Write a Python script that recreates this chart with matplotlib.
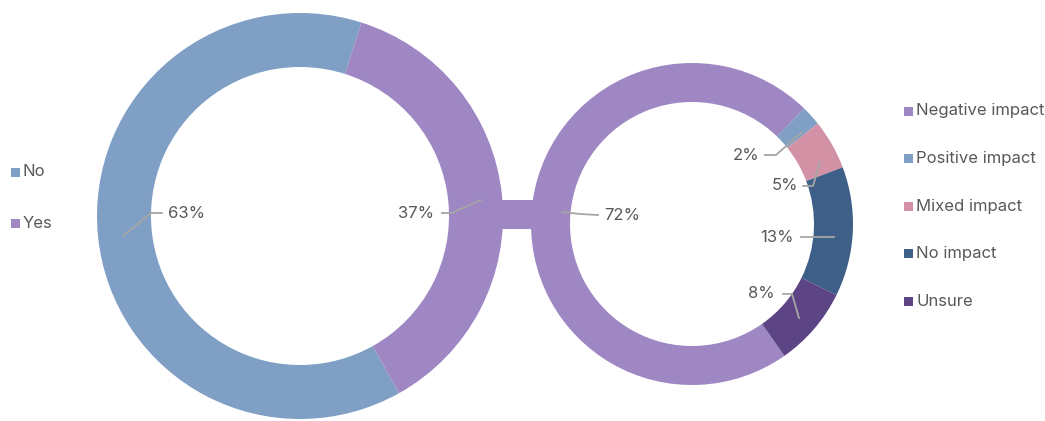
import matplotlib.pyplot as plt
from matplotlib.patches import Rectangle

plt.rcParams['font.family'] = ['Inter', 'DejaVu Sans']

# left donut: do respondents see an impact at all
main_labels = ['No', 'Yes']
main_values = [63, 37]
main_colors = ['#809fc4', '#9e87c3']

# right donut: breakdown of the impact
impact_labels = ['Negative impact', 'Positive impact', 'Mixed impact', 'No impact', 'Unsure']
impact_values = [72, 2, 5, 13, 8]
impact_colors = ['#9e87c3', '#809fc4', '#d291a5', '#3e5f87', '#5d4585']

W, H = 1045, 421
fig = plt.figure(figsize=(W / 100, H / 100), dpi=100)
ax = fig.add_axes([0, 0, 1, 1])

txt = '#595959'
line = '#a6a6a6'

def Y(y):
    return H - y

# connector between the two rings
ax.add_patch(Rectangle((495, Y(229)), 45, 29, color='#9e87c3', lw=0, zorder=1))

# left ring
ax.pie(main_values, colors=main_colors, center=(300, Y(216)), radius=203,
       startangle=-60.8, counterclock=False,
       wedgeprops=dict(width=54, edgecolor='none'), frame=True)

# right ring
ax.pie(impact_values, colors=impact_colors, center=(692, Y(224)), radius=161,
       startangle=90 - 145, counterclock=False,
       wedgeprops=dict(width=39, edgecolor='none'), frame=True)

ax.set_xlim(0, W)
ax.set_ylim(0, H)
ax.set_aspect('equal')
ax.axis('off')

def label(text, xt, yt, pts, ha='left'):
    xs = [p[0] for p in pts]
    ys = [Y(p[1]) for p in pts]
    ax.plot(xs, ys, color=line, lw=1.3, zorder=3)
    ax.text(xt, Y(yt), text, color=txt, fontsize=12, ha=ha, va='center', zorder=4)

label('%d%%' % main_values[0], 168, 213, [(123, 236), (151, 213), (162, 213)])
label('%d%%' % main_values[1], 434, 213, [(481, 200), (452, 213), (442, 213)], ha='right')
label('%d%%' % impact_values[0], 604, 215, [(562, 212), (580, 214), (598, 215)])
label('%d%%' % impact_values[1], 759, 155, [(765, 155), (776, 155), (801, 133)], ha='right')
label('%d%%' % impact_values[2], 798, 186, [(803, 186), (813, 186), (820, 162)], ha='right')
label('%d%%' % impact_values[3], 794, 237, [(801, 237), (834, 237)], ha='right')
label('%d%%' % impact_values[4], 775, 294, [(783, 294), (792, 294), (799, 318)], ha='right')

# legends drawn as marker + text
def legend_item(x, y, color, text):
    ax.add_patch(Rectangle((x, Y(y) - 4.5), 9, 9, color=color, lw=0))
    ax.text(x + 12, Y(y), text, color=txt, fontsize=12, ha='left', va='center')

for i, (lab, col) in enumerate(zip(main_labels, main_colors)):
    legend_item(11, 172 + 51 * i, col, lab)

for i, (lab, col) in enumerate(zip(impact_labels, impact_colors)):
    legend_item(904, 111 + 47.5 * i, col, lab)

fig.savefig('out.png', dpi=100)
